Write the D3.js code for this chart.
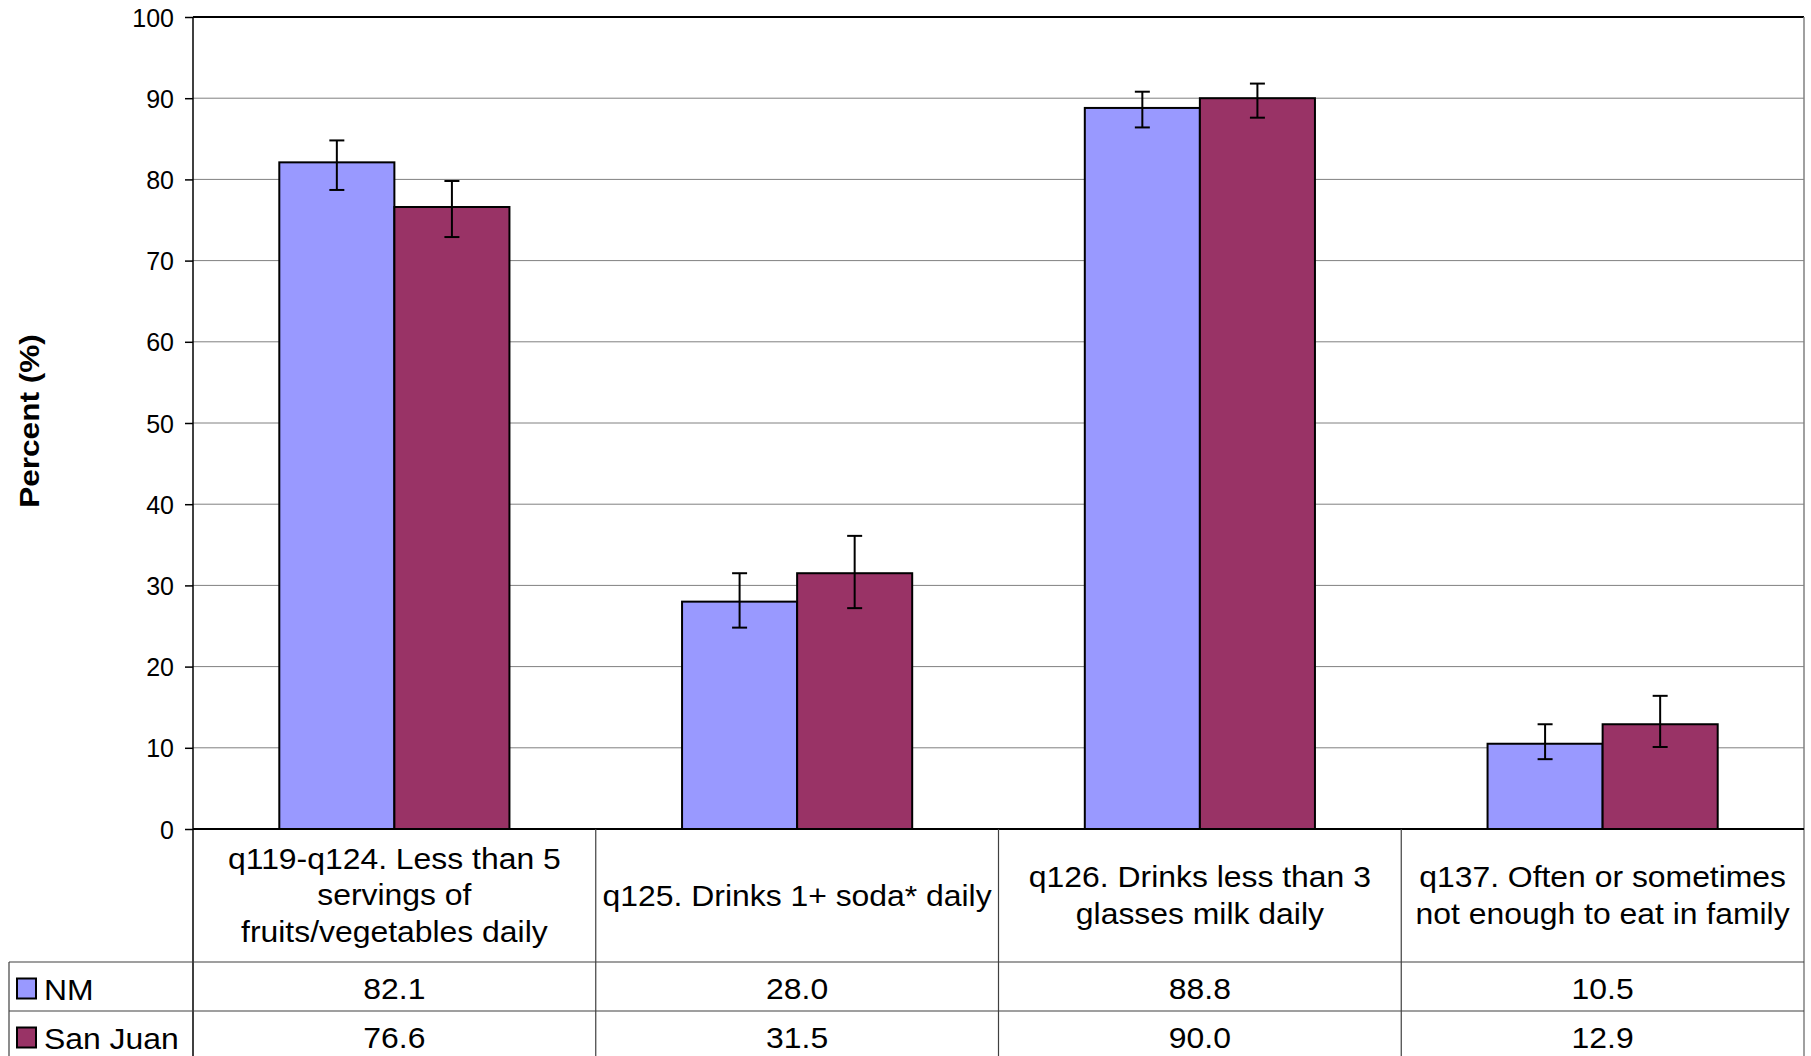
<!DOCTYPE html>
<html>
<head>
<meta charset="utf-8">
<script src="https://cdn.jsdelivr.net/npm/d3@7"></script>
<style>
  body { margin: 0; background: #fff; }
  svg { display: block; font-family: "Liberation Sans", Arial, sans-serif; }
  .tick text { font-size: 25px; fill: #000; }
  .cell { font-size: 29px; fill: #000; }
</style>
</head>
<body>
<svg id="chart"></svg>
<script>
// categories, split into the lines shown in the table header
var categories = [
  ["q119-q124. Less than 5", "servings of", "fruits/vegetables daily"],
  ["q125. Drinks 1+ soda* daily"],
  ["q126. Drinks less than 3", "glasses milk daily"],
  ["q137. Often or sometimes", "not enough to eat in family"]
];
var series = ["NM", "San Juan"];
var nm = [82.1, 28.0, 88.8, 10.5];
var sanJuan = [76.6, 31.5, 90.0, 12.9];
// confidence intervals
var nmLow = [78.7, 24.8, 86.4, 8.6];
var nmHigh = [84.8, 31.5, 90.8, 12.9];
var sjLow = [72.9, 27.2, 87.6, 10.1];
var sjHigh = [79.8, 36.1, 91.8, 16.4];
var yTicks = [0, 10, 20, 30, 40, 50, 60, 70, 80, 90, 100];

var colors = ["#9999ff", "#993366"];

var w = 1811, h = 1056;
var plot = { left: 193, right: 1804, top: 17, bottom: 829 };
var table = { left: 9, headBottom: 962, row1Bottom: 1011, row2Bottom: 1060 };
var stretch = 1.1; // table text in the original is a bit wide

var svg = d3.select("#chart").attr("width", w).attr("height", h);

var yScale = d3.scaleLinear().domain([0, 100]).range([plot.bottom, plot.top]);
var x0 = d3.scaleBand().domain(d3.range(categories.length)).range([plot.left, plot.right]);
var x1 = d3.scaleBand().domain(d3.range(series.length))
  .range([0, x0.bandwidth()]).paddingOuter(0.75).paddingInner(0);

function wideText(x, y) {
  return "translate(" + x + "," + y + ") scale(" + stretch + ",1)";
}

// gridlines
svg.append("g")
  .selectAll("line")
  .data(yTicks.filter(function(t) { return t > 0; }))
  .enter().append("line")
  .attr("x1", plot.left).attr("x2", plot.right)
  .attr("y1", function(d) { return yScale(d); })
  .attr("y2", function(d) { return yScale(d); })
  .attr("stroke", function(d) { return d == 100 ? "#000" : "#808080"; })
  .attr("stroke-width", function(d) { return d == 100 ? 2 : 1; });

// right edge of plot / table
svg.append("line")
  .attr("x1", plot.right).attr("x2", plot.right)
  .attr("y1", plot.top).attr("y2", h)
  .attr("stroke", "#808080").attr("stroke-width", 1.5);

// bars
var rows = [
  { vals: nm, lo: nmLow, hi: nmHigh },
  { vals: sanJuan, lo: sjLow, hi: sjHigh }
];
rows.forEach(function(r, s) {
  var g = svg.append("g");
  g.selectAll("rect")
    .data(r.vals)
    .enter().append("rect")
    .attr("x", function(d, i) { return x0(i) + x1(s); })
    .attr("y", function(d) { return yScale(d); })
    .attr("width", x1.bandwidth())
    .attr("height", function(d) { return yScale(0) - yScale(d); })
    .attr("fill", colors[s])
    .attr("stroke", "#000")
    .attr("stroke-width", 2);

  // error bars
  r.vals.forEach(function(v, i) {
    var cx = x0(i) + x1(s) + x1.bandwidth() / 2;
    var eb = g.append("g").attr("stroke", "#000").attr("stroke-width", 2);
    eb.append("line").attr("x1", cx).attr("x2", cx)
      .attr("y1", yScale(r.lo[i])).attr("y2", yScale(r.hi[i]));
    eb.append("line").attr("x1", cx - 7.5).attr("x2", cx + 7.5)
      .attr("y1", yScale(r.lo[i])).attr("y2", yScale(r.lo[i]));
    eb.append("line").attr("x1", cx - 7.5).attr("x2", cx + 7.5)
      .attr("y1", yScale(r.hi[i])).attr("y2", yScale(r.hi[i]));
  });
});

// y axis
var yAxis = d3.axisLeft(yScale).tickValues(yTicks).tickSize(8);
var ya = svg.append("g")
  .attr("transform", "translate(" + plot.left + ",0)")
  .call(yAxis);
ya.select(".domain").remove();
ya.selectAll(".tick line").attr("stroke", "#000").attr("stroke-width", 1.5);
ya.selectAll(".tick text")
  .attr("x", -19)
  .attr("dy", "0.36em");

svg.append("line")
  .attr("x1", plot.left).attr("x2", plot.left)
  .attr("y1", plot.top).attr("y2", h)
  .attr("stroke", "#000").attr("stroke-width", 1.5);
svg.append("line")
  .attr("x1", plot.left).attr("x2", plot.right)
  .attr("y1", plot.bottom).attr("y2", plot.bottom)
  .attr("stroke", "#000").attr("stroke-width", 2);

// axis title
svg.append("text")
  .text("Percent (%)")
  .attr("transform", "translate(39,421) rotate(-90) scale(1.17,1)")
  .attr("text-anchor", "middle")
  .attr("font-size", "27px")
  .attr("font-weight", "bold");

// table lines
var tline = "#404040";
d3.range(1, categories.length).forEach(function(i) {
  svg.append("line")
    .attr("x1", x0(i)).attr("x2", x0(i))
    .attr("y1", plot.bottom).attr("y2", h)
    .attr("stroke", tline).attr("stroke-width", 1.2);
});
[table.headBottom, table.row1Bottom].forEach(function(yy) {
  svg.append("line")
    .attr("x1", table.left).attr("x2", plot.right)
    .attr("y1", yy).attr("y2", yy)
    .attr("stroke", tline).attr("stroke-width", 1.2);
});
svg.append("line")
  .attr("x1", table.left).attr("x2", table.left)
  .attr("y1", table.headBottom).attr("y2", h)
  .attr("stroke", tline).attr("stroke-width", 1.2);

// header labels
var headMid = (plot.bottom + table.headBottom) / 2;
categories.forEach(function(lines, i) {
  var t = svg.append("text")
    .attr("class", "cell")
    .attr("text-anchor", "middle")
    .attr("transform", wideText(x0(i) + x0.bandwidth() / 2,
      headMid - (lines.length - 1) * 37 / 2 + 10));
  lines.forEach(function(l, k) {
    t.append("tspan")
      .attr("x", 0)
      .attr("dy", k == 0 ? 0 : 37)
      .text(l);
  });
});

// value rows with legend keys
var rowMids = [(table.headBottom + table.row1Bottom) / 2, (table.row1Bottom + table.row2Bottom) / 2];
rows.forEach(function(r, s) {
  svg.append("rect")
    .attr("x", 17).attr("y", rowMids[s] - 8)
    .attr("width", 19).attr("height", 20)
    .attr("fill", colors[s])
    .attr("stroke", "#000").attr("stroke-width", 2);
  svg.append("text")
    .attr("class", "cell")
    .attr("transform", wideText(44, rowMids[s] + 13))
    .text(series[s]);
  svg.selectAll(null)
    .data(r.vals)
    .enter().append("text")
    .attr("class", "cell")
    .attr("text-anchor", "middle")
    .attr("transform", function(d, i) { return wideText(x0(i) + x0.bandwidth() / 2, rowMids[s] + 12); })
    .text(function(d) { return d3.format(".1f")(d); });
});
</script>
</body>
</html>
